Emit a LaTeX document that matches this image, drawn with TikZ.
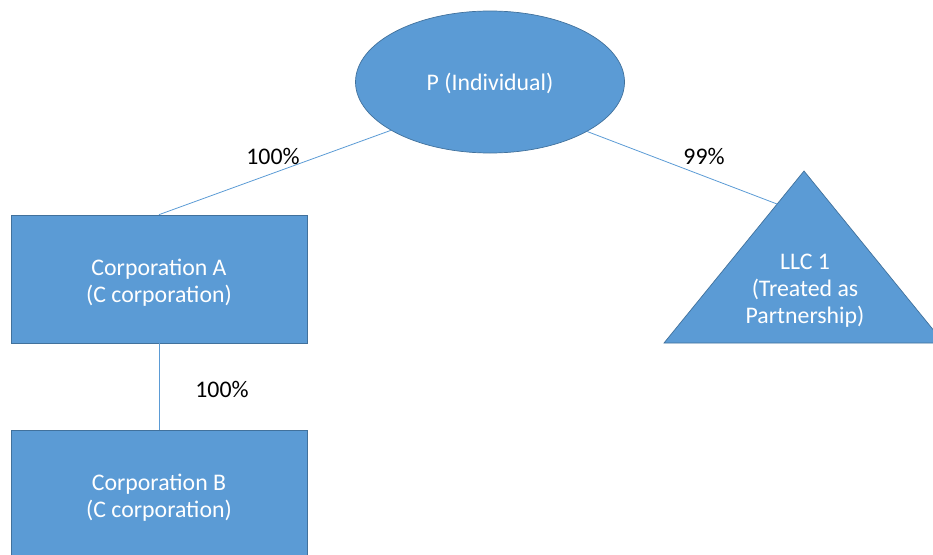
\documentclass[tikz,border=0pt]{standalone}
\usepackage{fontspec}
\setmainfont{Carlito}
\usetikzlibrary{shapes.geometric}
\definecolor{fillblue}{HTML}{5B9BD5}
\definecolor{edgeblue}{HTML}{41719C}
\tikzset{
  bigfont/.style={font=\fontsize{23.8}{27}\selectfont},
  entity/.style={fill=fillblue, draw=edgeblue, line width=0.7pt, text=white, bigfont, align=center, inner sep=0pt},
  corp/.style={entity, rectangle, minimum width=296pt, minimum height=128pt},
  inner/.style={bigfont, text=white, align=center, inner sep=0pt},
  link/.style={draw=fillblue, line width=0.8pt},
  pct/.style={bigfont, text=black, inner sep=0pt}
}
\begin{document}
\begin{tikzpicture}[x=1pt,y=-1pt]
\useasboundingbox (0,0) rectangle (933,554);
\node[entity, ellipse, minimum width=269pt, minimum height=142pt] (P) at (490,82) {};
\node[inner] (Ptext) at (490,83) {P (Individual)};
\node[corp] (A) at (159,279) {};
\node[inner] (Atext) at (159,283) {Corporation A\\(C corporation)};
\node[corp, minimum height=130pt] (B) at (159,495) {};
\node[inner] (Btext) at (159,498) {Corporation B\\(C corporation)};
\path[entity] (804,171) -- (944,343) -- (664,343) -- cycle;
\node[inner] (L) at (805,291) {LLC 1\\(Treated as\\Partnership)};
\coordinate (Ltop) at (777,204);
\draw[link] (P.206) -- (A.north);
\draw[link] (P.333) -- (Ltop);
\draw[link] (A.south) -- (B.north);
\node[pct] (l1) at (273,156) {100\%};
\node[pct] (l2) at (704,156) {99\%};
\node[pct] (l3) at (222,389) {100\%};
\end{tikzpicture}
\end{document}
